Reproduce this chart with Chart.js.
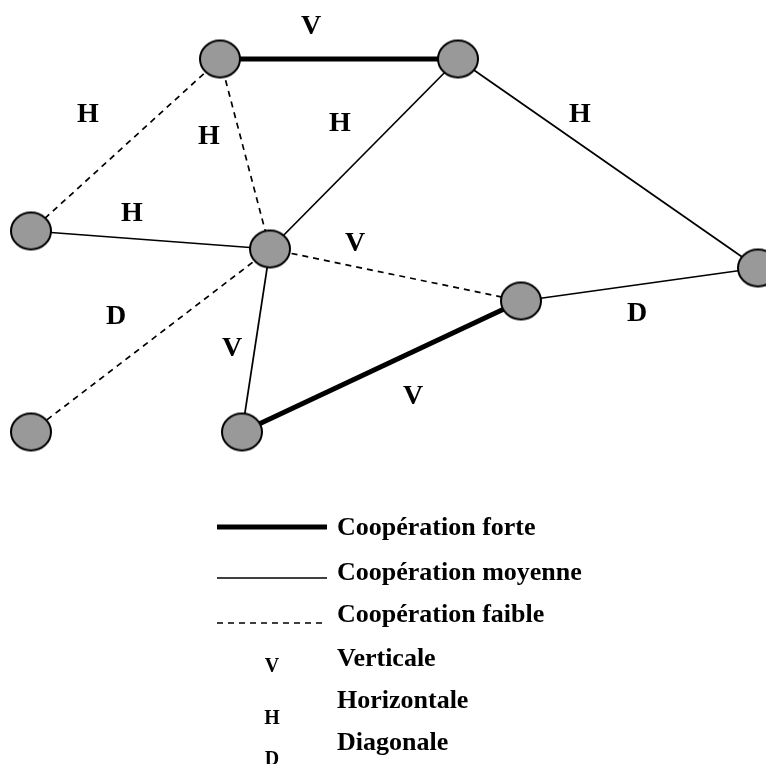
<!DOCTYPE html>
<html lang="fr">
<head>
<meta charset="UTF-8">
<title>Coopération</title>
<script src="https://cdn.jsdelivr.net/npm/chart.js@4.4.0/dist/chart.umd.min.js"></script>
<style>
  html, body { margin: 0; padding: 0; background: #fff; }
  canvas { display: block; }
</style>
</head>
<body>
<canvas id="net" width="766" height="764"></canvas>
<script>
// nodes (positions in the chart's own coordinate space)
const nodeNames = ['A', 'B', 'C', 'D', 'E', 'F', 'G', 'H'];
const nodeX = [220, 458, 31, 270, 758, 521, 31, 242];
const nodeY = [59, 59, 231, 249, 268, 301, 432, 432];

// links between nodes
const edgeFrom = ['A', 'A', 'A', 'B', 'B', 'C', 'D', 'D', 'D', 'H', 'F'];
const edgeTo   = ['B', 'C', 'D', 'D', 'E', 'D', 'F', 'G', 'H', 'F', 'E'];
const edgeKind = ['forte', 'faible', 'faible', 'moyenne', 'moyenne', 'moyenne',
                  'faible', 'faible', 'moyenne', 'forte', 'moyenne'];

// link type letters and where they sit
const labelText = ['V', 'H', 'H', 'H', 'H', 'H', 'V', 'D', 'D', 'V', 'V'];
const labelX = [311, 88, 209, 340, 580, 132, 355, 116, 637, 232, 413];
const labelY = [25, 113, 135, 122, 113, 212, 242, 315, 312, 347, 395];

// legend
const legendKinds = ['forte', 'moyenne', 'faible'];
const legendTexts = ['Coopération forte', 'Coopération moyenne', 'Coopération faible',
                     'Verticale', 'Horizontale', 'Diagonale'];
const legendKeys = ['V', 'H', 'D'];

const lineStyle = {
    forte:   { width: 5, dash: [] },
    moyenne: { width: 1.7, dash: [] },
    faible:  { width: 1.7, dash: [6, 5] }
};

// ellipse-shaped node marker
function nodeSprite() {
    const c = document.createElement('canvas');
    c.width = 44; c.height = 41;
    const g = c.getContext('2d');
    g.beginPath();
    g.ellipse(22, 20.5, 20, 18.5, 0, 0, Math.PI * 2);
    g.fillStyle = '#999999';
    g.fill();
    g.lineWidth = 2;
    g.strokeStyle = '#000';
    g.stroke();
    return c;
}

function pos(name) {
    const i = nodeNames.indexOf(name);
    return { x: nodeX[i], y: nodeY[i] };
}

const datasets = [];
edgeFrom.forEach((f, i) => {
    const st = lineStyle[edgeKind[i]];
    datasets.push({
        data: [pos(f), pos(edgeTo[i])],
        showLine: true,
        borderColor: '#000',
        borderWidth: st.width,
        borderDash: st.dash,
        pointRadius: 0,
        order: 2
    });
});
datasets.push({
    data: nodeNames.map((n, i) => ({ x: nodeX[i], y: nodeY[i] })),
    showLine: false,
    pointStyle: nodeSprite(),
    pointRadius: 20,
    order: 1
});

const labelsPlugin = {
    id: 'labels',
    afterDatasetsDraw(chart) {
        const ctx = chart.ctx;
        const sx = chart.scales.x, sy = chart.scales.y;
        ctx.save();
        ctx.fillStyle = '#000';
        ctx.textAlign = 'center';
        ctx.textBaseline = 'alphabetic';
        ctx.font = 'bold 28px "Liberation Serif", "Times New Roman", serif';
        labelText.forEach((t, i) => {
            ctx.fillText(t, sx.getPixelForValue(labelX[i]), sy.getPixelForValue(labelY[i]) + 9);
        });

        // legend block
        const lx0 = 217, lx1 = 327, tx = 337;
        const rowY = [526, 571, 613, 657, 699, 741];
        const lineY = [527, 578, 623];
        const keyY = [665, 717, 758];
        legendKinds.forEach((k, i) => {
            const st = lineStyle[k];
            ctx.beginPath();
            ctx.lineWidth = st.width;
            ctx.setLineDash(st.dash);
            ctx.moveTo(lx0, lineY[i]);
            ctx.lineTo(lx1, lineY[i]);
            ctx.stroke();
        });
        ctx.setLineDash([]);
        ctx.textAlign = 'left';
        ctx.font = 'bold 26px "Liberation Serif", "Times New Roman", serif';
        legendTexts.forEach((t, i) => ctx.fillText(t, tx, rowY[i] + 9));
        ctx.textAlign = 'center';
        ctx.font = 'bold 20px "Liberation Serif", "Times New Roman", serif';
        legendKeys.forEach((t, i) => ctx.fillText(t, 272, keyY[i] + 7));
        ctx.restore();
    }
};

new Chart(document.getElementById('net'), {
    type: 'scatter',
    data: { datasets },
    options: {
        responsive: false,
        animation: false,
        layout: { padding: 0, autoPadding: false },
        plugins: { legend: { display: false }, tooltip: { enabled: false } },
        scales: {
            x: { type: 'linear', min: 0, max: 766, display: false },
            y: { type: 'linear', min: 0, max: 764, reverse: true, display: false }
        }
    },
    plugins: [labelsPlugin]
});
</script>
</body>
</html>
